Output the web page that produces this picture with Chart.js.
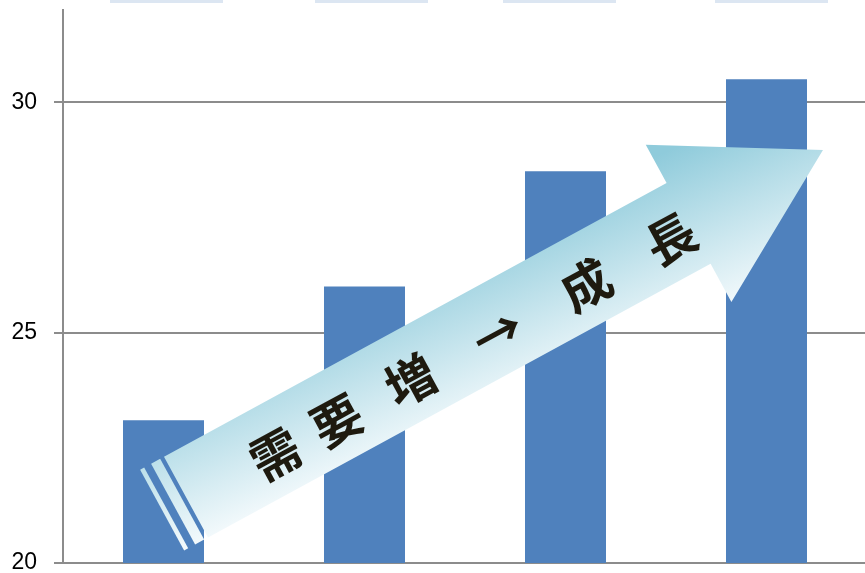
<!DOCTYPE html>
<html>
<head>
<meta charset="utf-8">
<script src="https://cdn.jsdelivr.net/npm/chart.js@4/dist/chart.umd.min.js"></script>
<style>
html,body{margin:0;padding:0;background:#fff;overflow:hidden;}
#clip{width:865px;height:573px;overflow:hidden;position:relative;}
#wrap{width:867px;height:573px;position:relative;}
</style>
</head>
<body>
<div id="clip"><div id="wrap"><canvas id="c"></canvas></div></div>
<script>
// ---- data ----
const categories = ['1', '2', '3', '4'];
const values = [23.1, 26.0, 28.5, 30.5];
const yTicks = [20, 25, 30];
const yMin = 20;
const yMax = 32;
const arrowChars = ['需', '要', '増', '→', '成', '長'];

// ---- decorations ----
const decorPlugin = {
  id: 'decor',
  beforeDraw(chart) {
    const ctx = chart.ctx;
    ctx.save();
    ctx.fillStyle = '#ffffff';
    ctx.fillRect(0, 0, chart.width, chart.height);
    // faint strips at top edge
    ctx.fillStyle = '#dce6f2';
    const xs = chart.scales.x;
    const stripOffsets = [-53.5, -49.5, -62.5, -51.5];
    for (let i = 0; i < categories.length; i++) {
      const cx = xs.getPixelForValue(i) + stripOffsets[i];
      ctx.fillRect(cx, 0, 113, 3);
    }
    ctx.restore();
  },
  afterDatasetsDraw(chart) {
    const ctx = chart.ctx;
    const xs = chart.scales.x, ys = chart.scales.y;
    const tx = xs.getPixelForValue(0.112), ty = ys.getPixelForValue(21.43);
    const hx = xs.getPixelForValue(3.281), hy = ys.getPixelForValue(28.96);
    const L = Math.hypot(hx - tx, hy - ty);
    const ang = Math.atan2(hy - ty, hx - tx);
    const notch = L * 0.789;
    const sw = 46, hw = 89.5;
    ctx.save();
    ctx.translate(tx, ty);
    ctx.rotate(ang);
    const g = ctx.createLinearGradient(L * 0.5, -92, L * 0.5 - 15, 92);
    g.addColorStop(0, '#8fcbdb');
    g.addColorStop(1, '#fdfeff');
    ctx.fillStyle = g;
    ctx.beginPath();
    ctx.moveTo(0, -sw);
    ctx.lineTo(notch, -sw);
    ctx.lineTo(notch, -hw);
    ctx.lineTo(L, 0);
    ctx.lineTo(notch, hw);
    ctx.lineTo(notch, sw);
    ctx.lineTo(0, sw);
    ctx.closePath();
    ctx.fill();
    ctx.fillRect(-14.7, -sw, 10.3, sw * 2);
    ctx.fillRect(-27.2, -sw, 4.6, sw * 2);
    // text
    const pos = [99, 169, 253, 352, 453, 549];
    ctx.fillStyle = '#1e1a0f';
    ctx.font = 'bold 50px "Noto Sans CJK JP"';
    ctx.textAlign = 'center';
    ctx.textBaseline = 'middle';
    arrowChars.forEach((ch, i) => {
      ctx.fillText(ch, pos[i], 5);
    });
    ctx.restore();
  }
};

new Chart(document.getElementById('c'), {
  type: 'bar',
  data: {
    labels: categories,
    datasets: [{
      data: values,
      backgroundColor: '#4f81bd',
      borderWidth: 0,
      barPercentage: 1,
      categoryPercentage: 0.403
    }]
  },
  options: {
    responsive: true,
    maintainAspectRatio: false,
    animation: false,
    layout: { padding: { top: 10, right: 0, bottom: 10, left: 0 } },
    plugins: { legend: { display: false }, tooltip: { enabled: false } },
    scales: {
      x: { display: false },
      y: {
        min: yMin,
        max: yMax,
        afterBuildTicks(s) { s.ticks = yTicks.map(v => ({ value: v })); },
        afterFit(s) { s.width = 63; s.paddingTop = 0; s.paddingBottom = 0; },
        ticks: {
          stepSize: 5,
          padding: 17,
          color: '#000000',
          font: { family: '"Liberation Sans", Arial, sans-serif', size: 23 }
        },
        grid: { color: '#8c8c8c', lineWidth: 2, tickLength: 9, drawTicks: true },
        border: { color: '#8c8c8c', width: 2 }
      }
    }
  },
  plugins: [decorPlugin]
});
</script>
</body>
</html>
